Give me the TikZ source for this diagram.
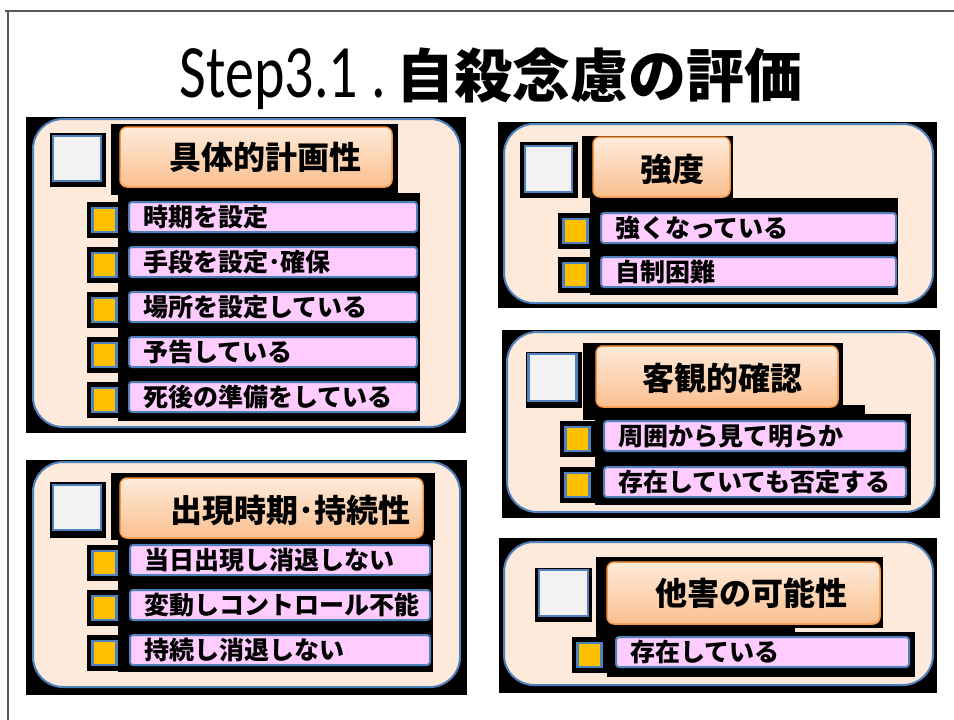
\documentclass[tikz,border=0pt]{standalone}
\usepackage{fontspec}
\newfontfamily\cjk{Noto Sans CJK JP}
\newfontfamily\latin{Carlito}
\usepackage{graphicx}
\definecolor{peach}{HTML}{FDEADA}
\definecolor{blu}{HTML}{4F81BD}
\definecolor{chkg}{HTML}{F2F2F2}
\definecolor{yel}{HTML}{FFC000}
\definecolor{pnk}{HTML}{FFCCFF}
\definecolor{orB}{HTML}{F79646}
\definecolor{orT}{HTML}{FFEBDA}
\definecolor{orBot}{HTML}{FABF8F}
\definecolor{framec}{HTML}{595959}
\begin{document}
\begin{tikzpicture}[x=1pt,y=-1pt,
  blk/.style={fill=black},
  panel/.style={fill=peach, draw=blu, line width=2pt, rounded corners=30pt},
  chk/.style={fill=chkg, draw=blu, line width=2.5pt, inner sep=0pt},
  ttlbox/.style={draw=orB, line width=1.5pt, rounded corners=7pt, top color=orT, bottom color=orBot, inner sep=0pt},
  ttltext/.style={font=\cjk\bfseries\fontsize{32}{34}\selectfont, inner sep=0pt},
  bar/.style={fill=pnk, draw=blu, line width=2pt, rounded corners=3pt,
    font=\cjk\bfseries\fontsize{25}{27}\selectfont, align=left, text width=#1,
    inner xsep=14pt, inner ysep=0pt, minimum height=30pt, anchor=west},
  sq/.style={fill=yel, draw=blu, line width=2.5pt, minimum size=24pt, inner sep=0pt}
]
\useasboundingbox (0,0) rectangle (954,720);
\fill[white] (0,0) rectangle (954,720);
% frame
\draw[framec, line width=2pt] (5,11) -- (954,11);
\draw[framec, line width=2pt] (8,11) -- (8,720);
% title
\node[anchor=base east, inner sep=0pt] (ttlA) at (386,97)
  {\latin\fontsize{58}{60}\selectfont\scalebox{1}[1.3]{Step3.1 .}};
\node[anchor=base west, inner sep=0pt] (ttlB) at (396,97)
  {\cjk\bfseries\fontsize{58}{60}\selectfont 自殺念慮の評価};

% ===== Group 1 =====
\fill[blk] (26,117) rectangle (466,433);
\draw[panel] (33,119) rectangle (460,427);
\fill[blk] (50,133) rectangle (106,187);
\node[chk, minimum width=48pt, minimum height=45pt] (g1c) at (77,158.5) {};
\fill[blk] (111,124) rectangle (398,195);
\node[ttlbox, minimum width=272pt, minimum height=60pt] (g1t) at (256,157) {};
\node[ttltext] (g1tl) at (265,157) {具体的計画性};
\fill[blk] (118,193) rectangle (420,421);
\foreach \c/\t/\n in {217/時期を設定/1, 262/手段を設定･確保/2, 307/場所を設定している/3, 352/予告している/4, 397/死後の準備をしている/5}{
  \fill[blk] (87,\c-15) rectangle (118,\c+21);
  \node[sq] (g1s\n) at (104.5,\c+3) {};
  \node[bar=260pt] (g1b\n) at (128,\c) {\t};
}

% ===== Group 2 =====
\fill[blk] (498,122) rectangle (937,308);
\draw[panel] (504,124) rectangle (933,303);
\fill[blk] (520,142) rectangle (578,198);
\node[chk, minimum width=47pt, minimum height=46pt] (g2c) at (548.5,169) {};
\fill[blk] (582,136) rectangle (733,198);
\node[ttlbox, minimum width=137pt, minimum height=60pt] (g2t) at (661.5,167) {};
\node[ttltext] (g2tl) at (672,169) {強度};
\fill[blk] (590,198) rectangle (898,295);
\foreach \c/\t/\n in {228/強くなっている/1, 272/自制困難/2}{
  \fill[blk] (558,\c-15) rectangle (590,\c+21);
  \node[sq] (g2s\n) at (575.5,\c+3) {};
  \node[bar=267pt] (g2b\n) at (600,\c) {\t};
}

% ===== Group 3 =====
\fill[blk] (26,460) rectangle (467,695);
\draw[panel] (33,462) rectangle (460,687);
\fill[blk] (50,482) rectangle (106,538);
\node[chk, minimum width=48pt, minimum height=45pt] (g3c) at (77,507.5) {};
\fill[blk] (111,473) rectangle (435,540);
\node[ttlbox, minimum width=303pt, minimum height=60pt] (g3t) at (271.5,508) {};
\node[ttltext] (g3tl) at (290,510) {出現時期･持続性};
\fill[blk] (118,540) rectangle (433,672);
\foreach \c/\t/\n in {560/当日出現し消退しない/1, 605/変動しコントロール不能/2, 650/持続し消退しない/3}{
  \fill[blk] (87,\c-15) rectangle (118,\c+21);
  \node[sq] (g3s\n) at (104.5,\c+3) {};
  \node[bar=272pt] (g3b\n) at (129,\c) {\t};
}

% ===== Group 4 =====
\fill[blk] (502,330) rectangle (940,518);
\draw[panel] (507,332) rectangle (935,512);
\fill[blk] (526,352) rectangle (582,408);
\node[chk, minimum width=48pt, minimum height=47pt] (g4c) at (552.5,377.5) {};
\fill[blk] (583,343) rectangle (843,408);
\fill[blk] (583,405) rectangle (865,420);
\node[ttlbox, minimum width=242pt, minimum height=61pt] (g4t) at (717,376.5) {};
\node[ttltext] (g4tl) at (722,378) {客観的確認};
\fill[blk] (595,414) rectangle (911,505);
\foreach \c/\t/\n in {436/周囲から見て明らか/1, 482/存在していても否定する/2}{
  \fill[blk] (560,\c-15) rectangle (595,\c+21);
  \node[sq] (g4s\n) at (577.5,\c+3) {};
  \node[bar=274pt] (g4b\n) at (603,\c) {\t};
}

% ===== Group 5 =====
\fill[blk] (499,538) rectangle (937,693);
\draw[panel] (504,542) rectangle (933,685);
\fill[blk] (535,568) rectangle (592,622);
\node[chk, minimum width=49pt, minimum height=46pt] (g5c) at (563.5,593) {};
\fill[blk] (596,557) rectangle (883,628);
\fill[blk] (596,625) rectangle (795,640);
\node[ttlbox, minimum width=273pt, minimum height=62pt] (g5t) at (743.5,593) {};
\node[ttltext] (g5tl) at (751,593) {他害の可能性};
\fill[blk] (607,632) rectangle (915,677);
\foreach \c/\t/\n in {652/存在している/1}{
  \fill[blk] (572,\c-15) rectangle (607,\c+21);
  \node[sq] (g5s\n) at (589.5,\c+3) {};
  \node[bar=265pt] (g5b\n) at (615,\c) {\t};
}
\end{tikzpicture}
\end{document}
